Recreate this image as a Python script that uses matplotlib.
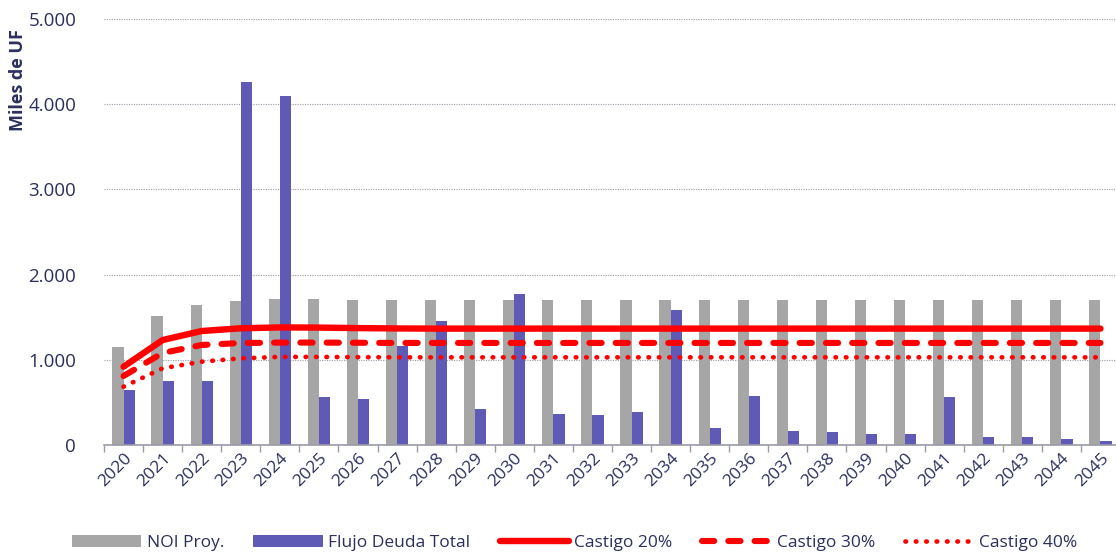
import matplotlib.pyplot as plt
import numpy as np
from matplotlib.ticker import FuncFormatter


# Projected cash flows (thousands of UF)
years = [str(y) for y in range(2020, 2046)]
noi_proy = [1145, 1510, 1643, 1694, 1717, 1717, 1705, 1702, 1706, 1706,
            1706, 1706, 1706, 1706, 1706, 1706, 1706, 1706, 1706, 1706,
            1706, 1706, 1706, 1706, 1706, 1706]
flujo_deuda = [645, 752, 752, 4259, 4092, 562, 543, 1165, 1450, 425,
               1770, 360, 348, 390, 1590, 195, 574, 164, 152, 133,
               133, 562, 94, 92, 70, 43]
castigo_20 = [919, 1232, 1338, 1370, 1380, 1378, 1372, 1368, 1366, 1366,
              1366, 1366, 1366, 1366, 1366, 1366, 1366, 1366, 1366, 1366,
              1366, 1366, 1366, 1366, 1366, 1366]
castigo_30 = [810, 1080, 1174, 1197, 1202, 1202, 1200, 1198, 1198, 1198,
              1198, 1198, 1198, 1198, 1198, 1198, 1198, 1198, 1198, 1198,
              1198, 1198, 1198, 1198, 1198, 1198]
castigo_40 = [684, 900, 978, 1017, 1034, 1034, 1031, 1029, 1029, 1029,
              1029, 1029, 1029, 1029, 1029, 1029, 1029, 1029, 1029, 1029,
              1029, 1029, 1029, 1029, 1029, 1029]

GRAY = '#a6a6a6'
BLUE = '#5f5ab6'
RED = '#ff0000'
NAVY = '#2b2f5c'

plt.rcParams['font.family'] = ['Open Sans', 'DejaVu Sans']

fig = plt.figure(figsize=(11.16, 5.54), dpi=100)
ax = fig.add_axes([104 / 1116, 1 - 445 / 554, 1016 / 1116, 426 / 554])

x = np.arange(len(years))
w = 0.286
b1 = ax.bar(x - w / 2, noi_proy, width=w, color=GRAY, label='NOI Proy.', zorder=2)
b2 = ax.bar(x + w / 2, flujo_deuda, width=w, color=BLUE, label='Flujo Deuda Total', zorder=2)

l1, = ax.plot(x, castigo_20, color=RED, lw=4.6, solid_capstyle='round',
              solid_joinstyle='round', label='Castigo 20%', zorder=3)
l2, = ax.plot(x, castigo_30, color=RED, lw=4.4, dashes=(2.0, 2.3), dash_capstyle='round',
              label='Castigo 30%', zorder=3)
l3, = ax.plot(x, castigo_40, color=RED, lw=3.4, dashes=(0.1, 2.1), dash_capstyle='round',
              label='Castigo 40%', zorder=3)

ax.set_xlim(-0.5, len(years) - 0.5)
ax.set_ylim(0, 5000)
ax.set_yticks(np.arange(0, 5001, 1000))
ax.yaxis.set_major_formatter(FuncFormatter(lambda v, p: f'{int(v):,}'.replace(',', '.')))
ax.grid(axis='y', color='#9a9aa8', linestyle=(0, (1, 1.2)), linewidth=0.8, zorder=0)
ax.grid(axis='x', visible=False)

# year labels at category centres, tick marks at category boundaries
ax.set_xticks(x)
ax.set_xticklabels(years, rotation=45, ha='right', va='top', rotation_mode='anchor')
ax.set_xticks(np.arange(-0.5, len(years), 1), minor=True)
ax.tick_params(axis='x', which='major', length=0, pad=4, labelsize=12.5, labelcolor=NAVY)
ax.tick_params(axis='x', which='minor', length=5, color='#9a9aa8', width=1)
ax.tick_params(axis='y', length=0, pad=20, labelsize=13.5, labelcolor=NAVY)

for s in ['top', 'right', 'left']:
    ax.spines[s].set_visible(False)
ax.spines['bottom'].set_color('#9a9aa8')
ax.spines['bottom'].set_linewidth(1.2)
ax.spines['bottom'].set_zorder(4)

fig.text(18 / 1116, 1 - 80 / 554, 'Miles de UF', rotation=90, ha='center', va='center',
         fontsize=13, fontweight='bold', color=NAVY)

leg = fig.legend([b1, b2, l1, l2, l3],
                 ['NOI Proy.', 'Flujo Deuda Total', 'Castigo 20%', 'Castigo 30%', 'Castigo 40%'],
                 loc='center', bbox_to_anchor=(0.515, 1 - 543 / 554), ncol=5, frameon=False,
                 fontsize=12.5, handlelength=4.0, handleheight=0.7, columnspacing=1.7,
                 handletextpad=0.3)
for t in leg.get_texts():
    t.set_color(NAVY)

fig.savefig('out.png', dpi=100)
